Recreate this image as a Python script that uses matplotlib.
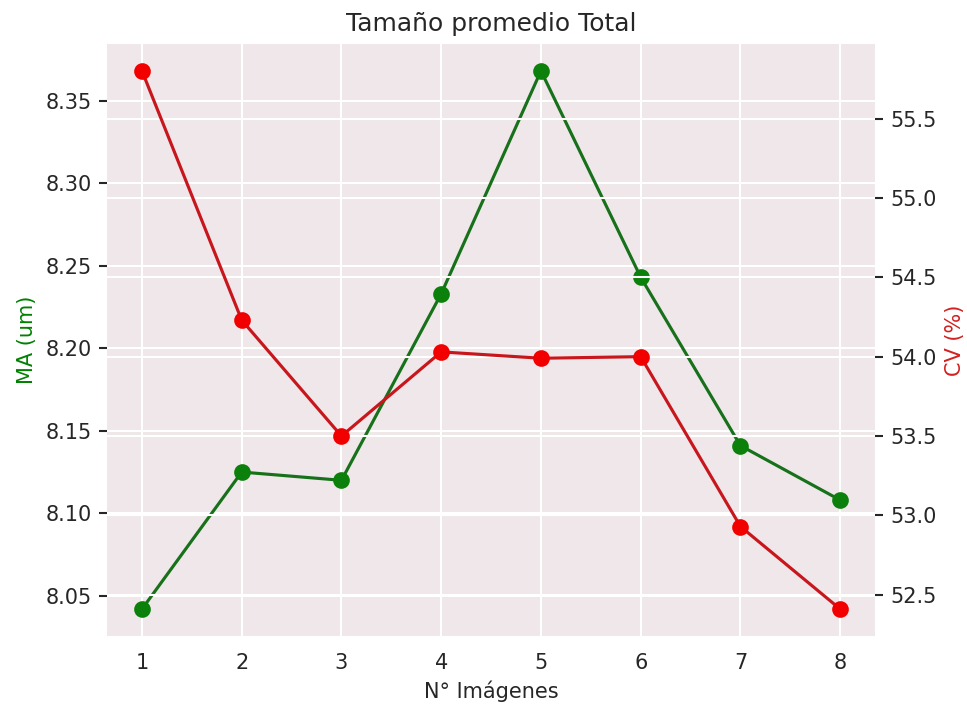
import matplotlib
matplotlib.use('Agg')
import matplotlib.pyplot as plt

# data
n_imagenes = [1, 2, 3, 4, 5, 6, 7, 8]
ma_um = [8.042, 8.125, 8.120, 8.233, 8.368, 8.243, 8.141, 8.108]
cv_pct = [55.80, 54.23, 53.50, 54.03, 53.99, 54.00, 52.93, 52.41]

BG = '#EFE7E9'
TXT = '#262626'

fig = plt.figure(figsize=(9.67 / 1.5, 7.08 / 1.5), dpi=150)
ax1 = fig.add_axes([0.1107, 0.1017, 0.7943, 0.8362])
ax1.set_facecolor(BG)

ax1.plot(n_imagenes, ma_um, color='#17701a', linewidth=1.5,
         marker='o', markersize=7, markerfacecolor='#0b800b', markeredgecolor='#0b800b')
ax1.set_ylabel('MA (um)', color='green', fontsize=10)
ax1.set_xlabel('N° Imágenes', fontsize=10, color=TXT)

ax2 = ax1.twinx()
ax2.plot(n_imagenes, cv_pct, color='#c8161d', linewidth=1.5,
         marker='o', markersize=7, markerfacecolor='#f20000', markeredgecolor='#f20000')
ax2.set_ylabel('CV (%)', color='#d42020', fontsize=10)

ax1.set_title('Tamaño promedio Total', fontsize=12, color=TXT)

for ax in (ax1, ax2):
    for s in ax.spines.values():
        s.set_visible(False)
    ax.grid(True, color='white', linewidth=1.0)
    ax.set_axisbelow(True)
    ax.tick_params(axis='y', length=4, width=1, color=TXT, labelcolor=TXT, labelsize=10)
    ax.tick_params(axis='x', length=0, labelcolor=TXT, labelsize=10, pad=8)

ax1.set_xticks(n_imagenes)
ax2.patch.set_visible(False)
ax1.set_zorder(0)
ax2.set_zorder(1)

fig.savefig('out.png', dpi=150)
